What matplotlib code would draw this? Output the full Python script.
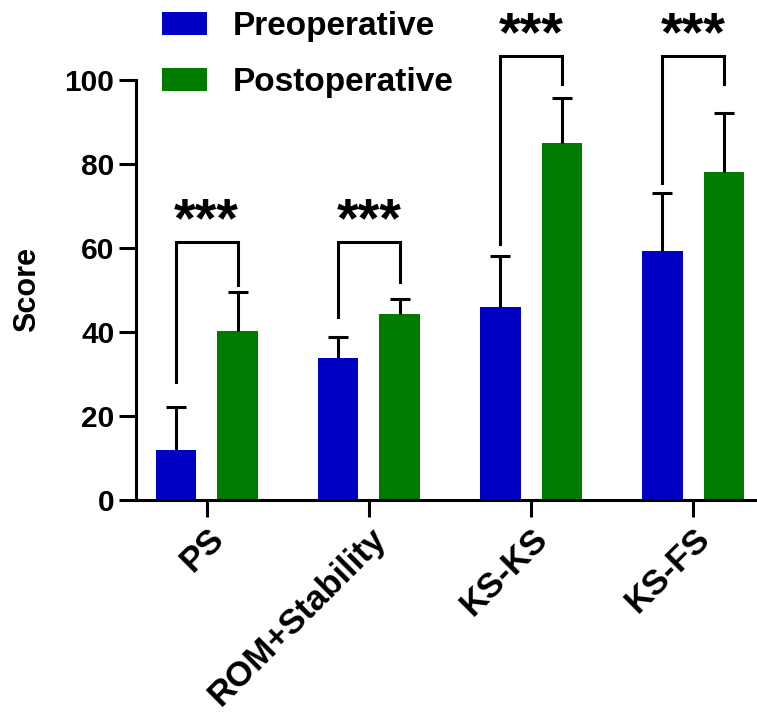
import matplotlib
matplotlib.use('Agg')
import matplotlib.pyplot as plt
import numpy as np

plt.rcParams['font.family'] = ['Liberation Sans', 'DejaVu Sans']
plt.rcParams['font.weight'] = 'bold'

# Data
categories = ['PS', 'ROM+Stability', 'KS-KS', 'KS-FS']
pre_mean = [11.8, 33.7, 45.9, 59.2]
pre_sd = [10.3, 5.1, 12.1, 13.9]
post_mean = [40.2, 44.3, 84.9, 78.1]
post_sd = [9.4, 3.6, 10.7, 14.1]
series_labels = ['Preoperative', 'Postoperative']
# significance brackets: left leg bottom, right leg bottom, bracket top
bracket_left = [28.1, 43.6, 60.9, 75.5]
bracket_right = [51.2, 52.0, 99.1, 99.1]
bracket_top = [61.3, 61.3, 105.6, 105.6]
sig_labels = ['***', '***', '***', '***']

blue = '#0000C4'
green = '#007B00'

fig = plt.figure(figsize=(7.57, 7.13), dpi=100)
ax = fig.add_axes([136 / 757, 213 / 713, 621 / 757, 500 / 713])

x = np.arange(len(categories))
offset = 0.19
width = 0.25

for means, sds, sign, color, label in [(pre_mean, pre_sd, -1, blue, series_labels[0]),
                                       (post_mean, post_sd, 1, green, series_labels[1])]:
    bars = ax.bar(x + sign * offset, means, width, color=color, label=label,
                  yerr=[np.zeros(len(sds)), sds], capsize=7,
                  error_kw=dict(elinewidth=2.2, capthick=2.2, ecolor='black'))
    # hide the lower caps (one-sided error bars)
    caplines = bars.errorbar.lines[1]
    caplines[0].set_visible(False)

# significance brackets
for i in range(len(categories)):
    xl = x[i] - offset
    xr = x[i] + offset
    ax.plot([xl, xl, xr, xr], [bracket_left[i], bracket_top[i], bracket_top[i], bracket_right[i]],
            color='black', lw=2.2, solid_joinstyle='miter', clip_on=False)
    ax.text(x[i], bracket_top[i] + 1.4, sig_labels[i], ha='center', va='baseline',
            fontsize=40, fontweight='bold', clip_on=False)

ax.set_xlim(-0.436, 3.393)
ax.set_ylim(0, 119)
ax.set_yticks([0, 20, 40, 60, 80, 100])
ax.spines['left'].set_bounds(0, 100)
ax.spines['top'].set_visible(False)
ax.spines['right'].set_visible(False)
for s in ['left', 'bottom']:
    ax.spines[s].set_linewidth(2.2)
ax.tick_params(axis='both', length=12, width=2.2)
ax.tick_params(axis='y', labelsize=21.5)

ax.set_xticks(x)
ax.set_xticklabels(categories, rotation=45, ha='right', rotation_mode='anchor',
                   fontweight='bold', fontsize=25)
for lab in ax.get_yticklabels():
    lab.set_fontweight('bold')
ax.set_ylabel('Score', fontsize=22, fontweight='bold')
ax.yaxis.set_label_coords(-0.151, 50 / 119)

ax.legend(loc='upper left', bbox_to_anchor=(162 / 757, 1 - 11 / 713), bbox_transform=fig.transFigure,
          frameon=False, handlelength=1.35, handleheight=0.7,
          handletextpad=0.78, labelspacing=0.76, borderpad=0, borderaxespad=0,
          prop={'weight': 'bold', 'size': 24})

fig.savefig('out.png', dpi=100)
